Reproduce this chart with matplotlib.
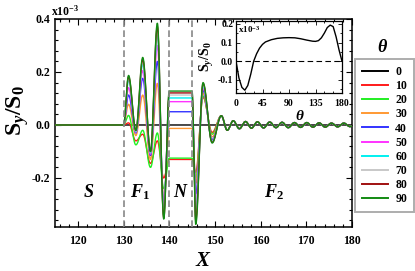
import numpy as np
import matplotlib
matplotlib.use("Agg")
import matplotlib.pyplot as plt
from matplotlib.lines import Line2D
from matplotlib.ticker import MultipleLocator

plt.rcParams['font.family'] = ['Liberation Serif', 'DejaVu Serif']
plt.rcParams['font.weight'] = 'bold'
plt.rcParams['mathtext.fontset'] = 'custom'
plt.rcParams['mathtext.rm'] = 'Liberation Serif:bold'
plt.rcParams['mathtext.it'] = 'Liberation Serif:bold:italic'
plt.rcParams['mathtext.bf'] = 'Liberation Serif:bold'

# ---------------- data ----------------
theta = [0, 10, 20, 30, 40, 50, 60, 70, 80, 90]
colors = ['#000000', '#ff1a1a', '#22ee22', '#ff9933', '#3333ff',
          '#ff33ff', '#00f0f0', '#c8c8c8', '#a01010', '#128a12']

# knot positions (extrema) in the F1 layer
f1_x = [130.0, 131.1, 132.7, 134.2, 135.9, 137.4, 138.8]
f1_peak1 = [0, 0.008, 0.036, 0.078, 0.113, 0.141, 0.169, 0.176, 0.182, 0.187]
f1_min1 = [0, -0.060, -0.075, -0.040, -0.030, -0.027, -0.025, -0.023, -0.021, -0.020]
f1_peak2 = [0, -0.035, -0.020, 0.113, 0.176, 0.205, 0.229, 0.240, 0.248, 0.255]
f1_min2 = [0, -0.145, -0.160, -0.130, -0.115, -0.110, -0.105, -0.102, -0.100, -0.100]
f1_peak3 = [0, -0.060, -0.030, 0.157, 0.240, 0.300, 0.340, 0.357, 0.372, 0.384]
f1_min3 = [0, -0.200, -0.240, -0.280, -0.300, -0.310, -0.330, -0.340, -0.350, -0.355]

# flat value in the N layer (140..145)
n_x = [140.0, 145.0]
n_level = [0, -0.130, -0.125, -0.013, 0.050, 0.088, 0.102, 0.113, 0.121, 0.128]

# first extrema in F2
f2_x = [145.8, 147.4, 149.4]
f2_min1 = [0, -0.180, -0.200, -0.220, -0.260, -0.300, -0.330, -0.345, -0.360, -0.375]
f2_peak1 = [0, 0.105, 0.110, 0.120, 0.130, 0.140, 0.148, 0.153, 0.157, 0.160]
f2_min2 = [0, -0.028, -0.035, -0.045, -0.055, -0.060, -0.062, -0.064, -0.066, -0.068]

# decaying tail in F2 (common to all non-zero curves)
tail_x = [151.4, 152.7, 154.0, 155.35, 156.7, 158.0, 159.3, 160.65, 162.0, 163.35,
          164.7, 166.05, 167.4, 168.75, 170.1, 171.45, 172.8, 174.15, 175.5,
          176.85, 178.2, 179.55, 180.0]
tail_vals = [0.035, -0.020, 0.016, -0.014, 0.013, -0.012, 0.012, -0.011, 0.011, -0.010,
             0.010, -0.010, 0.009, -0.009, 0.009, -0.008, 0.008, -0.008, 0.007,
             -0.007, 0.007, -0.006, -0.004]

# inset: S_y/S_0 vs theta
ins_theta = [0, 5, 10, 15, 20, 25, 30, 35, 40, 45, 50, 60, 70, 80, 90, 100, 110, 120,
             130, 135, 140, 145, 150, 155, 160, 165, 170, 175, 180]
ins_val = [0, -0.09, -0.14, -0.155, -0.13, -0.07, 0.0, 0.04, 0.07, 0.09, 0.103, 0.115,
           0.122, 0.125, 0.126, 0.125, 0.12, 0.113, 0.107, 0.106, 0.11, 0.125, 0.15,
           0.18, 0.193, 0.185, 0.13, 0.06, 0.0]


def smooth_line(xs, ys, n=30):
    """cosine easing between consecutive knots (extrema / plateau edges)"""
    X, Y = [], []
    for i in range(len(xs) - 1):
        t = np.linspace(0, 1, n, endpoint=False)
        X.append(xs[i] + (xs[i + 1] - xs[i]) * t)
        Y.append(ys[i] + (ys[i + 1] - ys[i]) * (1 - np.cos(np.pi * t)) / 2)
    X.append([xs[-1]]); Y.append([ys[-1]])
    return np.concatenate(X), np.concatenate(Y)


# ---------------- figure ----------------
W, H = 415, 271
fig = plt.figure(figsize=(W / 100, H / 100), dpi=100)
ax = fig.add_axes([55 / W, 1 - 227 / H, (352 - 55) / W, (227 - 19) / H])

for i, th in enumerate(theta):
    xs = [115.0] + f1_x + n_x + f2_x
    ys = [0.0, 0.0, f1_peak1[i], f1_min1[i], f1_peak2[i], f1_min2[i], f1_peak3[i],
          f1_min3[i], n_level[i], n_level[i], f2_min1[i], f2_peak1[i], f2_min2[i]]
    xs = xs + tail_x
    ys = ys + (tail_vals if th != 0 else [0.0] * len(tail_vals))
    X, Y = smooth_line(xs, ys)
    ax.plot(X, np.array(Y), color=colors[i], lw=1.0, zorder=2 + i)

for xv in [130, 140, 145]:
    ax.axvline(xv, color='#888888', ls=(0, (4, 2)), lw=1.2, zorder=20)

ax.set_xlim(115, 180)
ax.set_ylim(-0.385, 0.4)
ax.xaxis.set_major_locator(MultipleLocator(10))
ax.xaxis.set_minor_locator(MultipleLocator(2))
ax.yaxis.set_major_locator(MultipleLocator(0.2))
ax.yaxis.set_minor_locator(MultipleLocator(0.04))
ax.set_xticks([120, 130, 140, 150, 160, 170, 180])
ax.set_yticks([-0.2, 0.0, 0.2, 0.4])
ax.set_yticklabels(['-0.2', '0.0', '0.2', '0.4'])
ax.tick_params(which='both', direction='in', top=True, right=True, labelsize=8.5, width=0.8)
ax.tick_params(axis='x', which='both', pad=6)
ax.tick_params(which='major', length=4)
ax.tick_params(which='minor', length=2)
for s in ax.spines.values():
    s.set_linewidth(1.1)

ax.set_xlabel(r'$X$', fontsize=15, labelpad=3)
ax.set_ylabel(r'$\mathrm{S}_{y}/\mathrm{S}_{0}$', fontsize=17)
ax.yaxis.set_label_coords(-0.08, 0.56)
fig.text(51 / W, 1 - 11 / H, r'x10$^{\mathrm{-3}}$', fontsize=8.5, ha='left', va='center')

for lx, ly, lt in [(122.4, -0.255, r'$S$'), (133.5, -0.255, r'$F_{\mathrm{1}}$'),
                   (142.6, -0.255, r'$N$'), (163.0, -0.255, r'$F_{\mathrm{2}}$')]:
    ax.text(lx, ly, lt, fontsize=13, ha='center', va='center', zorder=30)

# ---------------- inset ----------------
ins = fig.add_axes([236 / W, 1 - 93 / H, 106 / W, 72 / H])
ins.plot(ins_theta, ins_val, color='black', lw=1.0)
ins.axhline(0, color='black', ls=(0, (5, 3)), lw=0.8)
ins.set_xlim(0, 180)
ins.set_ylim(-0.17, 0.215)
ins.set_xticks([0, 45, 90, 135, 180])
ins.set_yticks([-0.1, 0.0, 0.1, 0.2])
ins.set_yticklabels(['-0.1', '0.0', '0.1', '0.2'])
ins.xaxis.set_minor_locator(MultipleLocator(15))
ins.yaxis.set_minor_locator(MultipleLocator(0.05))
ins.tick_params(which='both', direction='in', top=True, right=True, labelsize=7, width=0.6, pad=2)
ins.tick_params(axis='x', which='both', pad=4)
ins.tick_params(which='major', length=3)
ins.tick_params(which='minor', length=1.5)
for s in ins.spines.values():
    s.set_linewidth(0.9)
ins.set_ylabel(r'$\mathrm{S}_{y}/\mathrm{S}_{0}$', fontsize=10, labelpad=1)
ins.text(4, 0.2, r'x10$^{\mathrm{-3}}$', fontsize=6.5, ha='left', va='top')
fig.text(300 / W, 1 - 116 / H, r'$\theta$', fontsize=11, ha='center', va='center')

# ---------------- legend ----------------
handles = [Line2D([], [], color=c, lw=1.4) for c in colors]
leg = fig.legend(handles, [str(t) for t in theta], loc='upper left',
                 bbox_to_anchor=(355 / W, 1 - 59 / H), fontsize=8.5,
                 handlelength=2.2, handletextpad=0.6, labelspacing=0.18,
                 borderpad=0.6, borderaxespad=0, frameon=True, fancybox=False)
leg.get_frame().set_edgecolor('#999999')
leg.get_frame().set_linewidth(1.4)
fig.text(383 / W, 1 - 48 / H, r'$\theta$', fontsize=13, ha='center', va='center')

fig.savefig('out.png', dpi=100)
